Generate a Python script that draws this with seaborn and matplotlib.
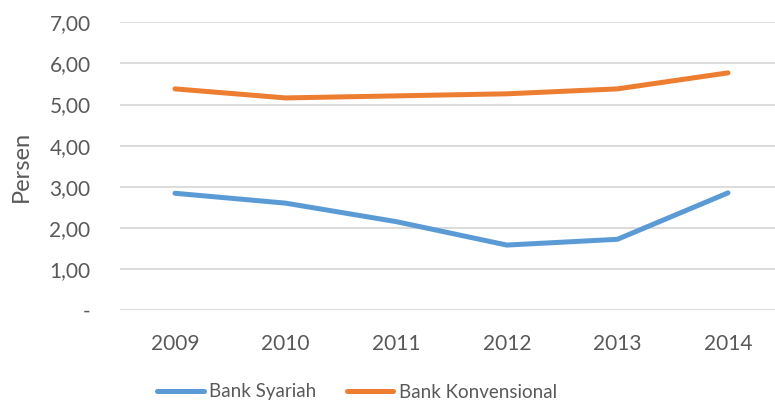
import matplotlib
matplotlib.use("Agg")
import matplotlib.pyplot as plt
import seaborn as sns
import pandas as pd

years = ["2009", "2010", "2011", "2012", "2013", "2014"]
syariah = [2.84, 2.60, 2.15, 1.58, 1.72, 2.85]
konvensional = [5.38, 5.16, 5.21, 5.26, 5.38, 5.77]
series_names = ["Bank Syariah", "Bank Konvensional"]
y_ticks = [0, 1, 2, 3, 4, 5, 6, 7]
y_labels = ["-", "1,00", "2,00", "3,00", "4,00", "5,00", "6,00", "7,00"]

df = pd.DataFrame({
    "Tahun": years * 2,
    "Nilai": syariah + konvensional,
    "Seri": [series_names[0]] * len(years) + [series_names[1]] * len(years),
})

sns.set_theme(style="white")
plt.rcParams["font.family"] = ["Lato", "DejaVu Sans"]
text_color = "#595959"

fig = plt.figure(figsize=(7.75, 4.03), dpi=100)
ax = fig.add_axes([119.7 / 775, 1 - 310 / 403, 1 - 119.7 / 775, (310 - 22.3) / 403])

sns.lineplot(data=df, x="Tahun", y="Nilai", hue="Seri", sort=False,
             palette=["#5B9BD5", "#ED7D31"], linewidth=3.6, ax=ax,
             solid_capstyle="round", legend=True)

ax.set_ylim(0, 7)
ax.set_xlim(-0.5, 5.425)
ax.set_yticks(y_ticks)
ax.set_yticklabels(y_labels)
ax.yaxis.grid(True, color="#D9D9D9", linewidth=1.3)
ax.xaxis.grid(False)
for s in ax.spines.values():
    s.set_visible(False)
ax.tick_params(axis="y", length=0, pad=21, labelsize=15, labelcolor=text_color)
ax.tick_params(axis="x", length=0, pad=17, labelsize=15, labelcolor=text_color)
ax.set_xlabel("")
ax.set_ylabel("Persen", fontsize=17, color=text_color)
ax.yaxis.set_label_coords((32 - 119.7) / 655.3, 0.5)

ax.get_legend().remove()
handles, labels = ax.get_legend_handles_labels()
leg = fig.legend(handles, labels, loc="center", bbox_to_anchor=(357 / 775, 1 - 392 / 403),
                 ncol=2, frameon=False, fontsize=13.5, handlelength=2.5,
                 handletextpad=0.3, columnspacing=1.6, labelcolor=text_color)
for h in leg.get_lines():
    h.set_linewidth(3.6)
    h.set_solid_capstyle("round")

fig.savefig("out.png", dpi=100)
